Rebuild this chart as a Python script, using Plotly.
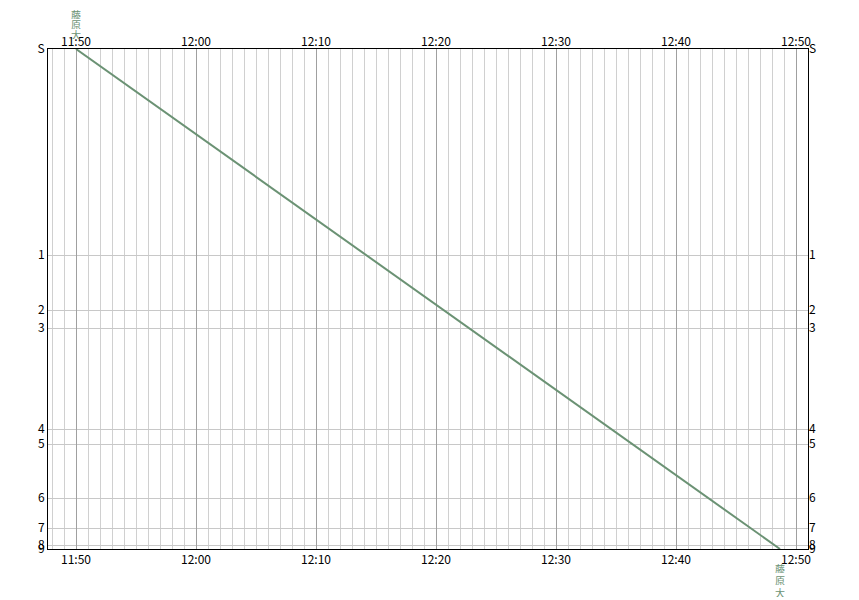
import plotly.graph_objects as go

# Stations (label, position along line)
station_labels = ["S", "1", "2", "3", "4", "5", "6", "7", "8", "9"]
station_pos = [0, 206, 261, 279, 380, 395, 449, 479, 496, 500]

# Train run
train_times = ["2024-01-01 11:50:00", "2024-01-01 12:48:40"]
train_pos = [0, 500]
train_name = "藤原大"

# Time ticks
tick_times = ["2024-01-01 11:50", "2024-01-01 12:00", "2024-01-01 12:10",
              "2024-01-01 12:20", "2024-01-01 12:30", "2024-01-01 12:40",
              "2024-01-01 12:50"]
tick_text = ["11:50", "12:00", "12:10", "12:20", "12:30", "12:40", "12:50"]
x_range = ["2024-01-01 11:47:40", "2024-01-01 12:51:00"]

line_color = "#6b9274"
font = dict(family="Noto Sans CJK JP, DejaVu Sans", size=12, color="black")

fig = go.Figure()
fig.add_trace(go.Scatter(x=train_times, y=train_pos, mode="lines",
                         line=dict(color=line_color, width=2),
                         showlegend=False, hoverinfo="skip"))
# invisible trace for top / right axes
fig.add_trace(go.Scatter(x=train_times, y=train_pos, mode="lines",
                         line=dict(width=0), opacity=0, xaxis="x2", yaxis="y2",
                         showlegend=False, hoverinfo="skip"))

xcommon = dict(range=x_range, tickvals=tick_times, ticktext=tick_text,
               showgrid=True, gridcolor="#a0a0a0", gridwidth=1,
               ticks="", tickfont=font, zeroline=False, automargin=False,
               minor=dict(dtick=60000, tick0="2024-01-01 11:50", showgrid=True,
                          gridcolor="#d0d0d0", gridwidth=1, ticks=""))
# page body has an 8px margin; compensate so the plot area sits at x 48..808, y 49..549
fig.update_layout(
    width=851, height=592,
    margin=dict(l=40, r=51, t=41, b=51),
    paper_bgcolor="white", plot_bgcolor="white",
    xaxis=dict(**xcommon, side="bottom", showline=True, linecolor="black",
               linewidth=1, mirror=True),
    xaxis2=dict(**xcommon, side="top", overlaying="x", showline=False),
    yaxis=dict(range=[500, 0], tickvals=station_pos, ticktext=station_labels,
               showgrid=True, gridcolor="#c8c8c8", gridwidth=1, ticks="",
               tickfont=font, zeroline=False, showline=True, linecolor="black",
               linewidth=1, mirror=True, side="left", automargin=False),
    yaxis2=dict(range=[500, 0], tickvals=station_pos, ticktext=station_labels,
                showgrid=False, ticks="", tickfont=font, zeroline=False,
                overlaying="y", side="right", automargin=False),
)

label_font = dict(family="Noto Sans CJK JP", size=10, color=line_color)
for i, ch in enumerate(train_name):
    fig.add_annotation(x=train_times[0], y=1, xref="x", yref="paper",
                       yanchor="middle", yshift=35 - 10 * i, showarrow=False,
                       text=ch, font=label_font, height=10)
    fig.add_annotation(x=train_times[-1], y=0, xref="x", yref="paper",
                       yanchor="middle", yshift=-19 - 12 * i, showarrow=False,
                       text=ch, font=label_font, height=10)

fig.write_html("out.html")
